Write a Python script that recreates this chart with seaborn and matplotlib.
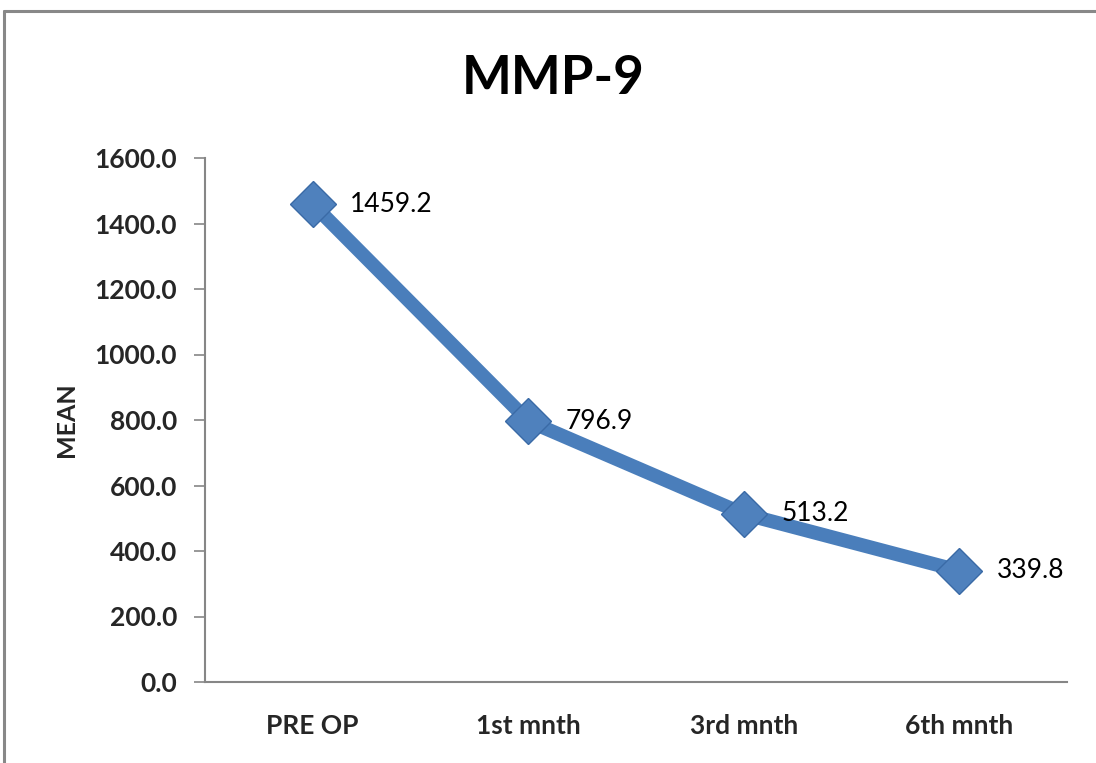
import matplotlib
matplotlib.use("Agg")
import matplotlib.pyplot as plt
import seaborn as sns
import pandas as pd
from matplotlib.lines import Line2D

categories = ["PRE OP", "1st mnth", "3rd mnth", "6th mnth"]
mean_values = [1459.2, 796.9, 513.2, 339.8]
y_ticks = [0, 200, 400, 600, 800, 1000, 1200, 1400, 1600]

sns.set_theme(style="white")
plt.rcParams['font.family'] = ['Lato', 'DejaVu Sans']

df = pd.DataFrame({"period": categories, "mean": mean_values})
df["pos"] = range(len(categories))

fig = plt.figure(figsize=(10.96, 7.63), dpi=100)
ax = fig.add_axes([205/1096, 1 - 682/763, (1067-205)/1096, (682-158)/763])

line_color = "#4A7EBB"
sns.lineplot(data=df, x="pos", y="mean", ax=ax, color=line_color, linewidth=10,
             marker="D", markersize=23, markerfacecolor="#4F81BD",
             markeredgecolor="#3A6AA6", markeredgewidth=1.0, solid_capstyle="butt")

for i, v in enumerate(mean_values):
    ax.annotate(f"{v:.1f}", xy=(i, v), xytext=(27, 0), textcoords="offset points",
                ha="left", va="center", fontsize=19, color="black")

ax.set_xlim(-0.5, 3.5)
ax.set_ylim(0, 1600)
ax.set_yticks(y_ticks)
ax.set_yticklabels([f"{t:.1f}" for t in y_ticks], fontsize=19, fontweight="bold")
ax.set_xticks(range(len(categories)))
ax.set_xticklabels(categories, fontsize=19, fontweight="bold")
ax.tick_params(axis="y", which="both", left=True, length=8, width=1.2, color="#868686", pad=12)
ax.tick_params(axis="x", which="both", bottom=False, pad=17)
ax.set_xlabel("")
ax.set_ylabel("MEAN", fontsize=18, fontweight="bold", labelpad=12)

for s in ["top", "right"]:
    ax.spines[s].set_visible(False)
for s in ["left", "bottom"]:
    ax.spines[s].set_color("#868686")
    ax.spines[s].set_linewidth(1.5)

fig.text(553/1096, 1 - 79/763, "MMP-9", ha="center", va="center", fontsize=38,
         fontweight="bold", color="black")

# outer chart border (left and top)
fig.add_artist(Line2D([4/1096, 4/1096], [-0.01, 1 - 10.5/763], transform=fig.transFigure,
                      color="#888888", linewidth=2.2))
fig.add_artist(Line2D([4/1096, 1.01], [1 - 10.5/763, 1 - 10.5/763], transform=fig.transFigure,
                      color="#888888", linewidth=2.2))

fig.savefig("out.png", dpi=100)
